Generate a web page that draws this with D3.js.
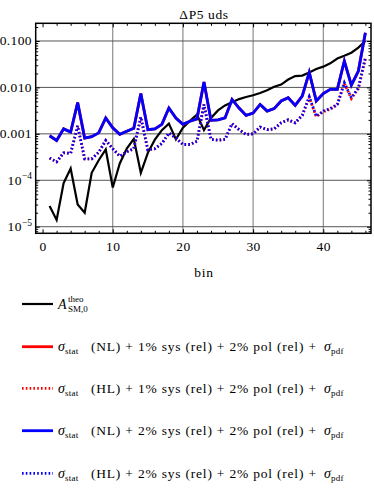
<!DOCTYPE html>
<html>
<head>
<meta charset="utf-8">
<script src="https://cdn.jsdelivr.net/npm/d3@7"></script>
<style>
  body { margin: 0; background: #fff; }
  svg { font-family: 'Liberation Serif', 'DejaVu Serif', serif; }
  .tick line { stroke: #000; }
</style>
</head>
<body>
<script>
// bins 1..46
var bins = [1,2,3,4,5,6,7,8,9,10,11,12,13,14,15,16,17,18,19,20,21,22,23,
  24,25,26,27,28,29,30,31,32,33,34,35,36,37,38,39,40,41,42,43,44,45,46]

var theo = [2.8e-5,1.4e-5,8.7e-5,1.8e-4,3.0e-5,2.0e-5,1.45e-4,2.7e-4,4.6e-4,7.0e-5,
  2.3e-4,4.8e-4,7.8e-4,1.45e-4,3.9e-4,7.5e-4,1.2e-3,1.66e-3,7.6e-4,1.35e-3,
  1.9e-3,2.6e-3,1.2e-3,2.2e-3,3.2e-3,4.1e-3,4.8e-3,5.6e-3,6.2e-3,6.8e-3,
  7.6e-3,8.7e-3,0.0103,0.0115,0.0148,0.0175,0.018,0.021,0.025,0.028,
  0.033,0.042,0.048,0.056,0.072,0.10]

// NL, 1% sys
var nl1 = [9.1e-4,7.2e-4,1.28e-3,1.09e-3,4.7e-3,8.1e-4,8.7e-4,1.05e-3,2.2e-3,1.35e-3,
  9.8e-4,1.14e-3,1.32e-3,7.4e-3,1.23e-3,1.28e-3,1.6e-3,3.6e-3,2.2e-3,1.6e-3,
  1.87e-3,2.1e-3,0.0131,1.95e-3,2.0e-3,2.2e-3,5.5e-3,3.6e-3,2.5e-3,2.8e-3,
  4.3e-3,3.1e-3,3.5e-3,5.1e-3,6.0e-3,4.1e-3,6.5e-3,0.021,5.1e-3,7.4e-3,
  9.1e-3,9.1e-3,0.037,0.0112,0.0225,0.15]

// HL, 1% sys
var hl1 = [3.0e-4,2.5e-4,3.9e-4,3.8e-4,1.48e-3,2.9e-4,2.9e-4,4.0e-4,7.2e-4,4.8e-4,
  3.3e-4,4.1e-4,4.8e-4,2.3e-3,4.5e-4,4.8e-4,6.2e-4,1.04e-3,8.1e-4,5.9e-4,
  5.9e-4,6.9e-4,4.3e-3,7.6e-4,7.3e-4,7.6e-4,1.66e-3,1.23e-3,9.7e-4,1.0e-3,
  1.4e-3,1.23e-3,1.28e-3,1.73e-3,2.0e-3,1.73e-3,2.5e-3,6.1e-3,2.35e-3,3.0e-3,
  3.4e-3,4.2e-3,0.0122,5.8e-3,9.4e-3,0.042]

// NL, 2% sys
var nl2 = [9.1e-4,7.2e-4,1.28e-3,1.09e-3,4.7e-3,8.1e-4,8.7e-4,1.05e-3,2.2e-3,1.35e-3,
  9.8e-4,1.14e-3,1.32e-3,7.4e-3,1.23e-3,1.28e-3,1.6e-3,3.6e-3,2.2e-3,1.6e-3,
  1.87e-3,2.1e-3,0.0131,1.95e-3,2.0e-3,2.2e-3,5.5e-3,3.6e-3,2.5e-3,2.8e-3,
  4.3e-3,3.1e-3,3.5e-3,5.1e-3,6.0e-3,4.1e-3,6.5e-3,0.021,5.1e-3,7.4e-3,
  9.1e-3,9.1e-3,0.037,0.0112,0.0225,0.15]

// HL, 2% sys
var hl2 = [3.0e-4,2.5e-4,3.9e-4,3.8e-4,1.48e-3,2.9e-4,2.9e-4,4.0e-4,7.2e-4,4.8e-4,
  3.3e-4,4.1e-4,4.8e-4,2.3e-3,4.5e-4,4.8e-4,6.2e-4,1.04e-3,8.1e-4,5.9e-4,
  5.9e-4,6.9e-4,4.3e-3,7.6e-4,7.3e-4,7.6e-4,1.66e-3,1.23e-3,9.7e-4,1.0e-3,
  1.4e-3,1.23e-3,1.28e-3,1.73e-3,2.0e-3,1.73e-3,2.5e-3,6.3e-3,2.4e-3,3.1e-3,
  3.5e-3,4.3e-3,0.0126,6.0e-3,9.7e-3,0.044]

var xTicks = [0, 10, 20, 30, 40]
var xMinor = [2,4,6,8,12,14,16,18,22,24,26,28,32,34,36,38,42,44,46]
var yTicks = [1e-5, 1e-4, 1e-3, 1e-2, 1e-1]
var yLabels = ['10^-5', '10^-4', '0.001', '0.010', '0.100']
var title = 'ΔP5 uds'
var xTitle = 'bin'

var width = 374, height = 494
var box = {left: 35.7, right: 371, top: 23.3, bottom: 233.3}
var fs = 13.5

var svg = d3.select('body').append('svg')
    .attr('width', width)
    .attr('height', height)

var x = d3.scaleLinear().domain([-0.98, 46.8]).range([box.left, box.right])
var y = d3.scaleLog().domain([7.21e-6, 0.2404]).range([box.bottom, box.top])

// grid
var grid = svg.append('g')
grid.selectAll('.vg').data(xTicks.slice(1)).enter()
    .append('line')
    .attr('x1', d => x(d)).attr('x2', d => x(d))
    .attr('y1', box.top).attr('y2', box.bottom)
    .attr('stroke', '#777').attr('stroke-width', 1)
grid.selectAll('.hg').data(yTicks).enter()
    .append('line')
    .attr('x1', box.left).attr('x2', box.right)
    .attr('y1', d => y(d)).attr('y2', d => y(d))
    .attr('stroke', '#555').attr('stroke-width', 1)

// series
var series = [
    {values: theo, color: '#000', width: 2.2, dash: null},
    {values: nl1, color: '#ff0000', width: 2.8, dash: null},
    {values: hl1, color: '#ff0000', width: 2.8, dash: '1.6,2.2'},
    {values: nl2, color: '#0000ff', width: 2.8, dash: null},
    {values: hl2, color: '#0000ff', width: 2.8, dash: '1.6,2.2'}
]

var line = d3.line()
    .x((d, i) => x(bins[i]))
    .y(d => y(d))

var plot = svg.append('g')
series.forEach(s => {
    plot.append('path')
        .datum(s.values)
        .attr('d', line)
        .attr('fill', 'none')
        .attr('stroke', s.color)
        .attr('stroke-width', s.width)
        .attr('stroke-linejoin', 'miter')
        .attr('stroke-dasharray', s.dash)
})

// frame
svg.append('rect')
    .attr('x', box.left).attr('y', box.top)
    .attr('width', box.right - box.left)
    .attr('height', box.bottom - box.top)
    .attr('fill', 'none')
    .attr('stroke', '#000')
    .attr('stroke-width', 1.5)

// ticks (inward)
var yMinor = []
;[-6, -5, -4, -3, -2, -1].forEach(e => {
    for (var k = 2; k <= 9; k++) {
        var v = k * Math.pow(10, e)
        if (v > y.domain()[0] && v < y.domain()[1]) yMinor.push(v)
    }
})

function addAxis(axis, tr) {
    var g = svg.append('g').attr('transform', tr).call(axis)
    g.select('.domain').remove()
    return g
}

var bottom = addAxis(d3.axisBottom(x).tickValues(xTicks).tickSize(-4).tickPadding(8.5),
    `translate(0,${box.bottom})`)
bottom.selectAll('text').attr('font-size', fs).attr('font-family', 'Liberation Serif')
    .attr('letter-spacing', 0.4)
addAxis(d3.axisBottom(x).tickValues(xMinor).tickSize(-2.5).tickFormat(''), `translate(0,${box.bottom})`)
addAxis(d3.axisTop(x).tickValues(xTicks).tickSize(-4).tickFormat(''), `translate(0,${box.top})`)
addAxis(d3.axisTop(x).tickValues(xMinor).tickSize(-2.5).tickFormat(''), `translate(0,${box.top})`)

addAxis(d3.axisLeft(y).tickValues(yTicks).tickSize(-4).tickFormat(''), `translate(${box.left},0)`)
addAxis(d3.axisLeft(y).tickValues(yMinor).tickSize(-2.5).tickFormat(''), `translate(${box.left},0)`)
addAxis(d3.axisRight(y).tickValues(yTicks).tickSize(-4).tickFormat(''), `translate(${box.right},0)`)
addAxis(d3.axisRight(y).tickValues(yMinor).tickSize(-2.5).tickFormat(''), `translate(${box.right},0)`)

// y labels
var yl = svg.append('g').attr('font-size', fs).attr('text-anchor', 'end')
yTicks.forEach((v, i) => {
    var t = yl.append('text').attr('x', 32).attr('y', y(v) + 4.5)
    var lab = yLabels[i]
    if (lab.indexOf('^') > 0) {
        var parts = lab.split('^')
        t.append('tspan').attr('letter-spacing', 0.4).text(parts[0])
        t.append('tspan').attr('dy', -5.5).attr('font-size', 9.5)
            .text(parts[1].replace('-', '\u2212'))
    } else {
        t.attr('letter-spacing', 0.4).text(lab)
    }
})

// titles
svg.append('text')
    .attr('x', 204).attr('y', 18.5)
    .attr('text-anchor', 'middle')
    .attr('font-size', fs)
    .attr('letter-spacing', 0.6)
    .text(title)

svg.append('text')
    .attr('x', 204).attr('y', 277)
    .attr('text-anchor', 'middle')
    .attr('font-size', fs)
    .attr('letter-spacing', 0.8)
    .text(xTitle)

// legend
var legendRows = [
    {color: '#000', width: 2.2, dash: null, type: 'theo'},
    {color: '#ff0000', width: 2.8, dash: null, lev: 'NL', sys: '1%'},
    {color: '#ff0000', width: 2.8, dash: '1.6,2.2', lev: 'HL', sys: '1%'},
    {color: '#0000ff', width: 2.8, dash: null, lev: 'NL', sys: '2%'},
    {color: '#0000ff', width: 2.8, dash: '1.6,2.2', lev: 'HL', sys: '2%'}
]
var legendY = [304, 346.7, 388.3, 430.7, 473.3]

var legend = svg.append('g').attr('font-size', fs)
legendRows.forEach((r, i) => {
    var ly = legendY[i]
    legend.append('line')
        .attr('x1', 22).attr('x2', 53)
        .attr('y1', ly).attr('y2', ly)
        .attr('stroke', r.color)
        .attr('stroke-width', r.width)
        .attr('stroke-dasharray', r.dash)
    if (r.type === 'theo') {
        legend.append('text').attr('x', 58).attr('y', ly + 4.5)
            .attr('font-style', 'italic').attr('font-size', 14).text('A')
        legend.append('text').attr('x', 68).attr('y', ly - 2.5)
            .attr('font-size', 9).text('theo')
        legend.append('text').attr('x', 68).attr('y', ly + 8)
            .attr('font-size', 9).text('SM,0')
    } else {
        var t = legend.append('text').attr('x', 58).attr('y', ly + 4.5)
        t.append('tspan').attr('font-style', 'italic').attr('font-size', 14).text('σ')
        t.append('tspan').attr('font-size', 9).attr('dy', 3).attr('letter-spacing', 0.3).text('stat')
        t.append('tspan').attr('x', 91).attr('dy', -3)
            .attr('textLength', 225).attr('lengthAdjust', 'spacing')
            .text(`(${r.lev}) + ${r.sys} sys (rel) + 2% pol (rel) +`)
        t.append('tspan').attr('x', 324).attr('font-style', 'italic').attr('font-size', 14).text('σ')
        t.append('tspan').attr('font-size', 9).attr('dy', 3).attr('letter-spacing', 0.3).text('pdf')
    }
})
</script>
</body>
</html>
